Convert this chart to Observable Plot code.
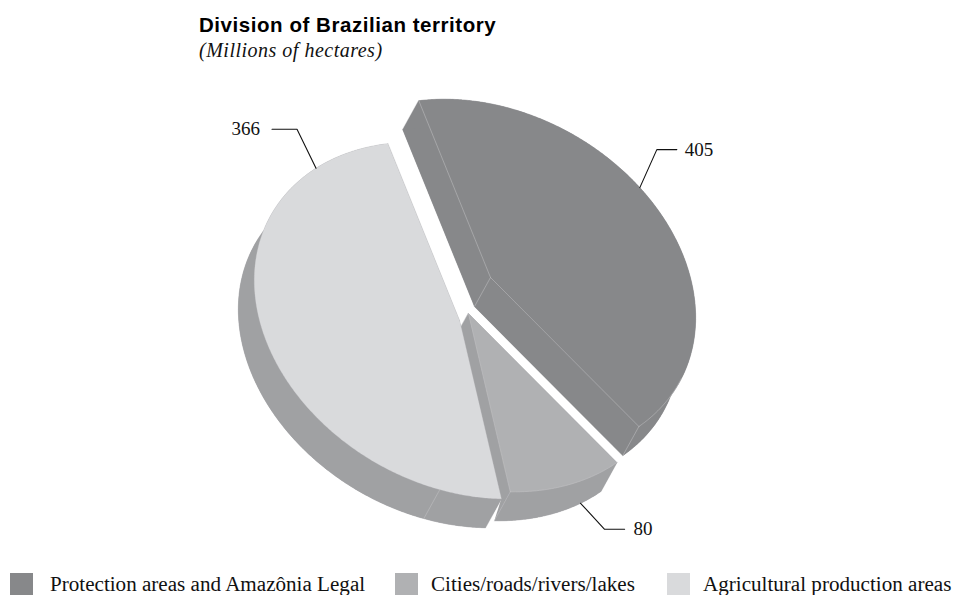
<!DOCTYPE html>
<html>
<head>
<meta charset="utf-8">
<script src="https://cdn.jsdelivr.net/npm/d3@7"></script>
<script src="https://cdn.jsdelivr.net/npm/@observablehq/plot@0.6"></script>
<style>
  html, body { margin: 0; padding: 0; background: #fff; overflow: hidden; }
  #page { position: relative; width: 955px; height: 595px; }
  #head { height: 68px; box-sizing: border-box; padding: 13px 0 0 199px; }
  #title { font: bold 20.5px/23px "Liberation Sans", sans-serif; color: #000; letter-spacing: 0.55px; }
  #sub { font: italic 20px/22px "Liberation Serif", serif; color: #111; letter-spacing: 0.5px; margin-top: 3px; }
  #chart svg { display: block; }
  #legend { position: absolute; top: 573px; left: 0; width: 955px; height: 22px; font: 21.1px/22px "Liberation Serif", serif; color: #111; }
  #legend span { position: absolute; top: 0; white-space: nowrap; }
  #legend i { position: absolute; top: 0; width: 23px; height: 22px; }
</style>
</head>
<body>
<div id="page">
  <div id="head">
    <div id="title">Division of Brazilian territory</div>
    <div id="sub">(Millions of hectares)</div>
  </div>
  <div id="chart"></div>
  <div id="legend"></div>
</div>
<script>
// Land use, millions of hectares
const categories = ["Protection areas and Amazônia Legal", "Cities/roads/rivers/lakes", "Agricultural production areas"];
const hectares = [405, 80, 366];

// Styling per slice
const faceColors = ["#87888a", "#b0b1b3", "#d9dadc"];
const wallColors = ["#87888a", "#a0a1a3", "#a0a1a3"];
const seamColor = "#c4c5c7";

// Layout of the tilted disc, in page pixels
const headHeight = 68, svgHeight = 502;
const apexes = [[490, 277], [468, 313], [459, 320]];   // each slice is pulled away from the others
const radii = {long: 216, short: 165, tilt: 29 * Math.PI / 180};
const depth = [-16, 29];                               // extrusion of the disc
const startParam = 226.6 * Math.PI / 180;              // where the first slice begins on the rim
const foreshorten = 17.3 * Math.PI / 180;              // the far side of the disc reads narrower
const legendX = [[10, 50], [395, 431], [667, 703]];
// Leader elbows relative to the rim, then the run out to the label
const leaders = [
  {at: 0.428, elbow: [17, -38], run: [20, 0], label: [8, 0], anchor: "start"},
  {at: 0.23, elbow: [24, 26], run: [20, 0], label: [9, 0], anchor: "start"},
  {at: 0.85, elbow: [-19, -39], run: [-25, 0], label: [-12, 0], anchor: "end"}
];
const seamAt = 0.103;

const arcs = d3.pie().sort(null).startAngle(0).endAngle(2 * Math.PI)(hectares);

// A point on the rim of slice i at pie angle a
function rim(i, a) {
  const t = startParam + a - foreshorten * Math.sin(a / 2) ** 2;
  const u = radii.long * Math.cos(t), v = radii.short * Math.sin(t);
  return [
    apexes[i][0] + u * Math.cos(radii.tilt) - v * Math.sin(radii.tilt),
    apexes[i][1] + u * Math.sin(radii.tilt) + v * Math.cos(radii.tilt)
  ];
}
const sunk = p => [p[0] + depth[0], p[1] + depth[1]];
const rowsOf = (part, pts) => pts.map(p => ({part, x: p[0], y: p[1] - headHeight}));

function rimPoints(i) {
  const {startAngle: a0, endAngle: a1} = arcs[i];
  const n = Math.ceil((a1 - a0) * 120);
  return d3.range(n + 1).map(k => rim(i, a0 + (a1 - a0) * k / n));
}

const marks = [];
const shape = (rows, fill) => Plot.line(rows, {x: "x", y: "y", z: "part", fill, stroke: fill, strokeWidth: 0.3, curve: "linear-closed"});
const seam = (pts, opacity = 1) => Plot.line(rowsOf("s", pts), {x: "x", y: "y", stroke: seamColor, strokeWidth: 0.5, strokeOpacity: opacity});

arcs.forEach((arc, i) => {
  const apex = apexes[i], edge = rimPoints(i);
  const first = edge[0], last = edge[edge.length - 1];
  // Lower face, both cut walls and the rim band of the slice
  const wall = [
    ...rowsOf("bottom", [sunk(apex), ...edge.map(sunk)]),
    ...rowsOf("cut-a", [apex, first, sunk(first), sunk(apex)]),
    ...rowsOf("cut-b", [apex, last, sunk(last), sunk(apex)]),
    ...rowsOf("band", [...edge, ...edge.map(sunk).reverse()])
  ];
  marks.push(shape(wall, wallColors[i]));
  if (i === 1) {
    // Wedge of air below the second slice's cut, next to the third slice
    const lightEnd = rim(2, arcs[2].startAngle);
    marks.push(Plot.line(rowsOf("w", [lightEnd, sunk(last), sunk(lightEnd)]), {x: "x", y: "y", fill: "#fff", curve: "linear-closed"}));
  }
  marks.push(shape(rowsOf("top", [apex, ...edge]), faceColors[i]));
  // Fine light seams along the folds
  if (i === 0) {
    marks.push(seam([first, apex, last]), seam([apex, sunk(apex)]), seam(edge.slice(-Math.round(edge.length * 0.14))), seam([last, sunk(last)]));
  }
  if (i === 1) {
    marks.push(seam([apex, last]), seam(edge), seam([last, sunk(last)]));
  }
  if (i === 2) {
    const p = rim(2, arc.startAngle + (arc.endAngle - arc.startAngle) * seamAt);
    marks.push(seam([p, sunk(p)]));
  }
});

// Leader lines and value labels
const labels = [];
arcs.forEach((arc, i) => {
  const l = leaders[i];
  let p = rim(i, arc.startAngle + (arc.endAngle - arc.startAngle) * l.at);
  if (i === 1) p = sunk(p);
  const q = [p[0] + l.elbow[0], p[1] + l.elbow[1]];
  const r = [q[0] + l.run[0], q[1] + l.run[1]];
  marks.push(Plot.line(rowsOf("l", [p, q, r]), {x: "x", y: "y", stroke: "#111", strokeWidth: 1.1}));
  labels.push({x: r[0] + l.label[0], y: r[1] + l.label[1] - headHeight, text: String(hectares[i]), anchor: l.anchor});
});
for (const anchor of ["start", "end"]) {
  marks.push(Plot.text(labels.filter(d => d.anchor === anchor), {
    x: "x", y: "y", text: "text", textAnchor: anchor,
    fontFamily: "Liberation Serif", fontSize: 19, fill: "#111"
  }));
}

const chart = Plot.plot({
  width: 955,
  height: svgHeight,
  margin: 0,
  x: {domain: [0, 955], range: [0, 955], axis: null},
  y: {domain: [0, svgHeight], range: [0, svgHeight], axis: null},
  marks
});
document.getElementById("chart").append(chart);

// Legend under the chart
const legend = d3.select("#legend");
categories.forEach((name, i) => {
  legend.append("i").style("left", legendX[i][0] + "px").style("background", faceColors[i]);
  legend.append("span").style("left", legendX[i][1] + "px").text(name);
});
</script>
</body>
</html>
